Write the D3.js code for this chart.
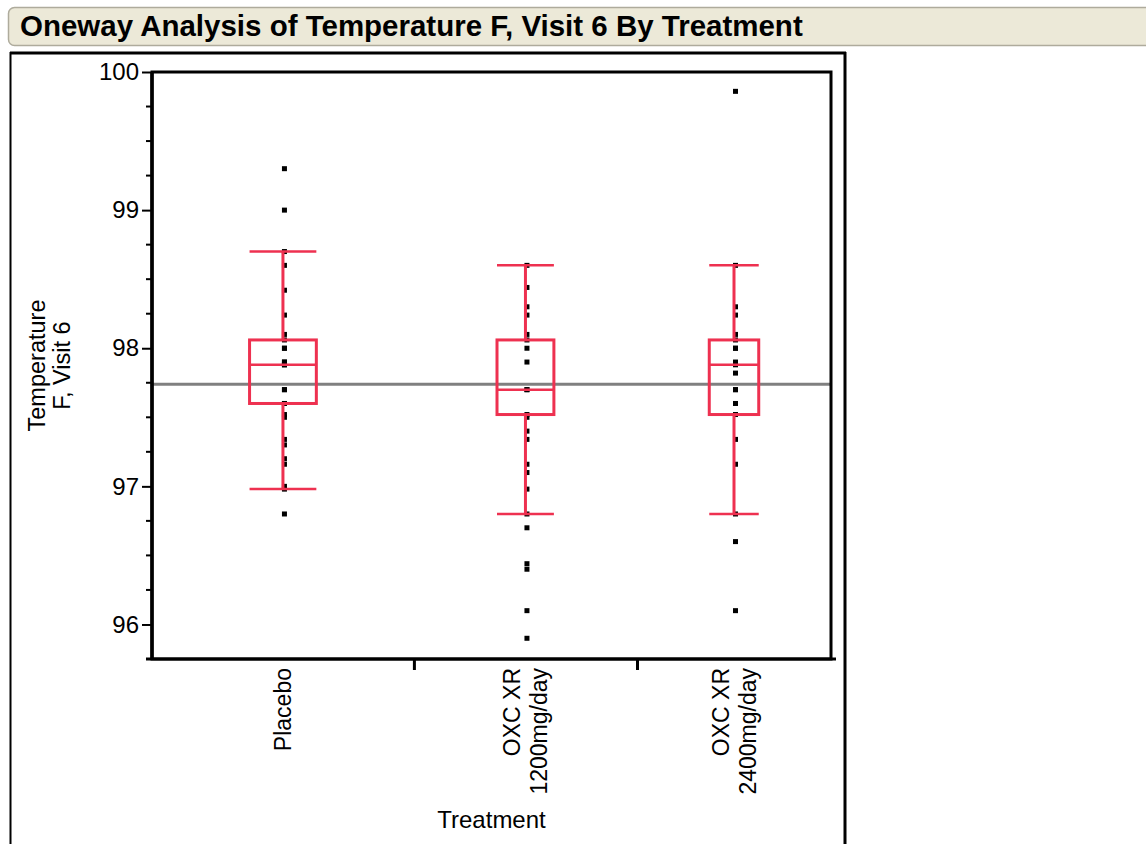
<!DOCTYPE html>
<html>
<head>
<meta charset="utf-8">
<script src="https://cdn.jsdelivr.net/npm/d3@7"></script>
<style>
  html, body { margin: 0; padding: 0; background: #ffffff; }
  svg { display: block; font-family: "Liberation Sans", Arial, sans-serif; }
</style>
</head>
<body>
<svg id="chart" width="1146" height="844"></svg>
<script>
// Temperature (F) at visit 6, by treatment arm
const groupLabels = [["Placebo"], ["OXC XR", "1200mg/day"], ["OXC XR", "2400mg/day"]];
const groupSizes = [27, 23, 20];

const placeboTemps = [99.3, 99.0, 98.7, 98.6, 98.42, 98.24, 98.1, 98.06, 98.0, 98.0, 97.9, 97.9,
  97.88, 97.88, 97.7, 97.7, 97.6, 97.6, 97.52, 97.5, 97.34, 97.3, 97.2, 97.16, 97.0, 96.98, 96.8];
const oxc1200Temps = [98.6, 98.44, 98.3, 98.24, 98.1, 98.06, 98.0, 97.9, 97.7, 97.7, 97.52, 97.5,
  97.4, 97.34, 97.16, 97.1, 96.98, 96.8, 96.7, 96.44, 96.4, 96.1, 95.9];
const oxc2400Temps = [99.86, 98.6, 98.3, 98.24, 98.1, 98.06, 98.0, 98.0, 97.9, 97.88, 97.82, 97.7,
  97.7, 97.6, 97.52, 97.34, 97.16, 96.8, 96.6, 96.1];

// Box-plot summaries per arm
const whiskerLow = [96.98, 96.8, 96.8];
const quartile1 = [97.6, 97.52, 97.52];
const medians = [97.88, 97.7, 97.88];
const quartile3 = [98.06, 98.06, 98.06];
const whiskerHigh = [98.7, 98.6, 98.6];

const grandMean = 97.74;
const yTicks = [96, 97, 98, 99, 100];
const yDomain = [95.75, 100];

const titleText = "Oneway Analysis of Temperature F, Visit 6 By Treatment";
const yTitle = ["Temperature", "F, Visit 6"];
const xTitle = "Treatment";

const svg = d3.select("#chart");
const red = "#ee3150";

// ---- Title bar ----
svg.append("rect")
  .attr("x", 8.5).attr("y", 7.5).attr("width", 1160).attr("height", 38)
  .attr("rx", 6).attr("ry", 6)
  .attr("fill", "#ece9d8").attr("stroke", "#aeab9c").attr("stroke-width", 1.5);
const title = svg.append("text")
  .attr("x", 20).attr("y", 36)
  .attr("font-weight", "bold").attr("font-size", 25)
  .attr("fill", "#000")
  .text(titleText);
const tl = title.node().getComputedTextLength();
title.attr("font-size", 25 * 783 / tl);

// ---- Outer report frame ----
svg.append("line").attr("x1", 10.5).attr("x2", 10.5).attr("y1", 52).attr("y2", 844)
  .attr("stroke", "#000").attr("stroke-width", 2);
svg.append("line").attr("x1", 10).attr("x2", 846).attr("y1", 53).attr("y2", 53)
  .attr("stroke", "#000").attr("stroke-width", 3);
svg.append("line").attr("x1", 845).attr("x2", 845).attr("y1", 52).attr("y2", 844)
  .attr("stroke", "#000").attr("stroke-width", 3);

// ---- Scales ----
const plot = { left: 152, right: 831, top: 72, bottom: 659 };
const y = d3.scaleLinear().domain(yDomain).range([plot.bottom, plot.top]);
const totalN = d3.sum(groupSizes);
const x = d3.scaleLinear().domain([0, totalN]).range([plot.left, plot.right]);
const cumStart = groupSizes.map((n, i) => d3.sum(groupSizes.slice(0, i)));
const centers = groupSizes.map((n, i) => x(cumStart[i] + n / 2));
const bandWidths = groupSizes.map(n => x(n) - x(0));

// ---- Y axis ----
const yAxis = d3.axisLeft(y).tickValues(yTicks).tickSize(10).tickPadding(3).tickFormat(d3.format("d"));
const gy = svg.append("g").attr("transform", `translate(${plot.left},0)`).call(yAxis);
gy.select(".domain").remove();
gy.selectAll(".tick line").attr("stroke", "#000").attr("stroke-width", 2);
gy.selectAll(".tick text").attr("font-size", 24).attr("fill", "#000");
const minorTicks = d3.range(yDomain[0], yDomain[1] + 0.001, 0.25).filter(v => !yTicks.includes(v));
svg.append("g").selectAll("line").data(minorTicks).join("line")
  .attr("x1", plot.left - 6).attr("x2", plot.left)
  .attr("y1", d => y(d)).attr("y2", d => y(d))
  .attr("stroke", "#000").attr("stroke-width", 2);

// ---- X axis (band boundaries) ----
const boundaries = cumStart.slice(1);
const xAxis = d3.axisBottom(x).tickValues(boundaries).tickSize(11).tickFormat("");
const gx = svg.append("g").attr("transform", `translate(0,${plot.bottom})`).call(xAxis);
gx.select(".domain").remove();
gx.selectAll(".tick line").attr("stroke", "#000").attr("stroke-width", 3);

// Category labels, rotated
groupLabels.forEach((lines, i) => {
  const n = lines.length;
  lines.forEach((txt, j) => {
    const cx = centers[i] + (j - (n - 1) / 2) * 27;
    svg.append("text")
      .attr("transform", `translate(${cx},${plot.bottom + 9}) rotate(-90)`)
      .attr("text-anchor", "end").attr("dy", "0.36em")
      .attr("font-size", 23).attr("fill", "#000")
      .text(txt);
  });
});

// Axis titles
svg.append("text").attr("x", (plot.left + plot.right) / 2).attr("y", 828)
  .attr("text-anchor", "middle").attr("font-size", 24).attr("fill", "#000")
  .text(xTitle);
yTitle.forEach((txt, j) => {
  svg.append("text")
    .attr("transform", `translate(${37 + j * 25},${(plot.top + plot.bottom) / 2}) rotate(-90)`)
    .attr("text-anchor", "middle").attr("dy", "0.36em")
    .attr("font-size", 23.5).attr("fill", "#000")
    .text(txt);
});

// ---- Grand mean line ----
svg.append("line")
  .attr("x1", plot.left).attr("x2", plot.right)
  .attr("y1", y(grandMean)).attr("y2", y(grandMean))
  .attr("stroke", "#808080").attr("stroke-width", 3);

// ---- Data points ----
const groups = [placeboTemps, oxc1200Temps, oxc2400Temps];
const dotSize = 5;
groups.forEach((vals, i) => {
  svg.append("g").selectAll("rect").data(vals).join("rect")
    .attr("x", centers[i] + 1.5 - dotSize / 2)
    .attr("y", d => y(d) - dotSize / 2)
    .attr("width", dotSize).attr("height", dotSize)
    .attr("fill", "#000");
});

// ---- Box plots ----
groups.forEach((vals, i) => {
  const g = svg.append("g").attr("fill", "none").attr("stroke", red);
  const bw = bandWidths[i] * 0.255;
  const cx = centers[i];
  // whiskers
  g.append("line").attr("x1", cx).attr("x2", cx)
    .attr("y1", y(whiskerHigh[i])).attr("y2", y(quartile3[i])).attr("stroke-width", 3);
  g.append("line").attr("x1", cx).attr("x2", cx)
    .attr("y1", y(quartile1[i])).attr("y2", y(whiskerLow[i])).attr("stroke-width", 3);
  // caps
  [whiskerHigh[i], whiskerLow[i]].forEach(v => {
    g.append("line").attr("x1", cx - bw / 2).attr("x2", cx + bw / 2)
      .attr("y1", y(v)).attr("y2", y(v)).attr("stroke-width", 2.5);
  });
  // box
  g.append("rect").attr("x", cx - bw / 2).attr("y", y(quartile3[i]))
    .attr("width", bw).attr("height", y(quartile1[i]) - y(quartile3[i]))
    .attr("stroke-width", 3);
  // median
  g.append("line").attr("x1", cx - bw / 2).attr("x2", cx + bw / 2)
    .attr("y1", y(medians[i])).attr("y2", y(medians[i])).attr("stroke-width", 2.5);
});

// ---- Plot frame ----
svg.append("rect")
  .attr("x", plot.left).attr("y", plot.top)
  .attr("width", plot.right - plot.left).attr("height", plot.bottom - plot.top)
  .attr("fill", "none").attr("stroke", "#000").attr("stroke-width", 3);
svg.append("line").attr("x1", plot.left - 6).attr("x2", plot.right + 5)
  .attr("y1", plot.bottom).attr("y2", plot.bottom)
  .attr("stroke", "#000").attr("stroke-width", 3);
svg.append("line").attr("x1", plot.left).attr("x2", plot.left)
  .attr("y1", plot.top).attr("y2", plot.bottom + 1)
  .attr("stroke", "#000").attr("stroke-width", 3.5);
</script>
</body>
</html>
